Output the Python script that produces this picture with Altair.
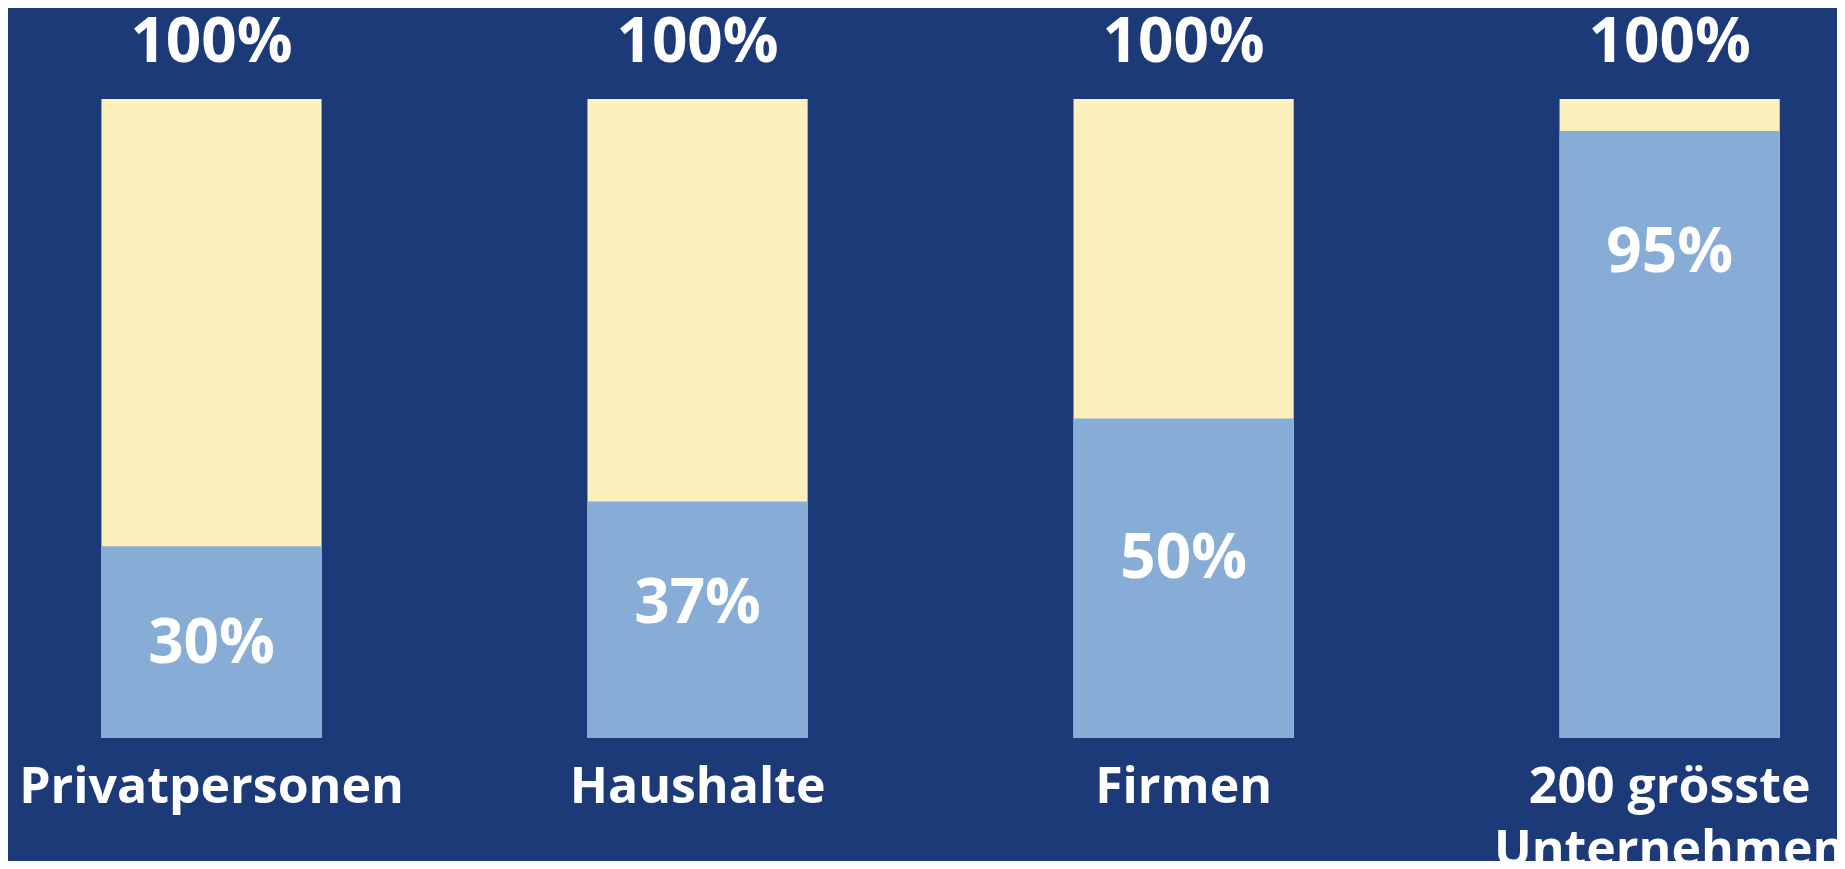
import altair as alt
import pandas as pd

categories = ["Privatpersonen", "Haushalte", "Firmen", "200 grösste Unternehmen"]
shares = [30, 37, 50, 95]
totals = [100, 100, 100, 100]
share_labels = ["30%", "37%", "50%", "95%"]
total_labels = ["100%", "100%", "100%", "100%"]
label_pos = [11.7, 18.0, 25.0, 72.9]

BG = "#1d3a78"
YELLOW = "#fcf1bd"
BLUE = "#87acd6"
FONT = "Open Sans"

df = pd.DataFrame({
    "cat": categories,
    "share": shares,
    "total": totals,
    "share_label": share_labels,
    "total_label": total_labels,
    "label_pos": label_pos,
})

x = alt.X(
    "cat:N",
    sort=categories,
    scale=alt.Scale(paddingInner=0.547, paddingOuter=0.155, align=0.62),
    axis=alt.Axis(
        title=None,
        domain=False,
        ticks=False,
        labelAngle=0,
        labelFont=FONT,
        labelFontSize=50,
        labelFontWeight="bold",
        labelColor="white",
        labelBaseline="alphabetic",
        labelPadding=64,
        labelLineHeight=63,
        labelLimit=0,
        labelOverlap=False,
        labelExpr="datum.label == '200 grösste Unternehmen' ? ['200 grösste', 'Unternehmen'] : datum.label",
    ),
)
yscale = alt.Scale(domain=[0, 100], nice=False, zero=True)

base = alt.Chart(df)

total_bar = base.mark_bar(color=YELLOW).encode(
    x=x,
    y=alt.Y("total:Q", scale=yscale, axis=None),
)
share_bar = base.mark_bar(color=BLUE).encode(
    x=x,
    y=alt.Y("share:Q", scale=yscale, axis=None),
)
top_text = base.mark_text(
    font=FONT, fontSize=62, fontWeight="bold", color="white",
    baseline="alphabetic", dy=-37,
).encode(
    x=x,
    y=alt.Y("total:Q", scale=yscale, axis=None),
    text="total_label:N",
)
inner_text = base.mark_text(
    font=FONT, fontSize=62, fontWeight="bold", color="white",
    baseline="alphabetic",
).encode(
    x=x,
    y=alt.Y("label_pos:Q", scale=yscale, axis=None),
    text="share_label:N",
)

chart = (
    alt.layer(total_bar, share_bar, top_text, inner_text)
    .properties(
        width=1829,
        height=639,
        background=BG,
        padding={"left": 0, "right": 0, "top": 91, "bottom": 123},
        autosize=alt.AutoSizeParams(type="none"),
    )
    .configure_view(stroke=None)
)

chart.save("out.html", embed_options={"renderer": "svg", "actions": False})
